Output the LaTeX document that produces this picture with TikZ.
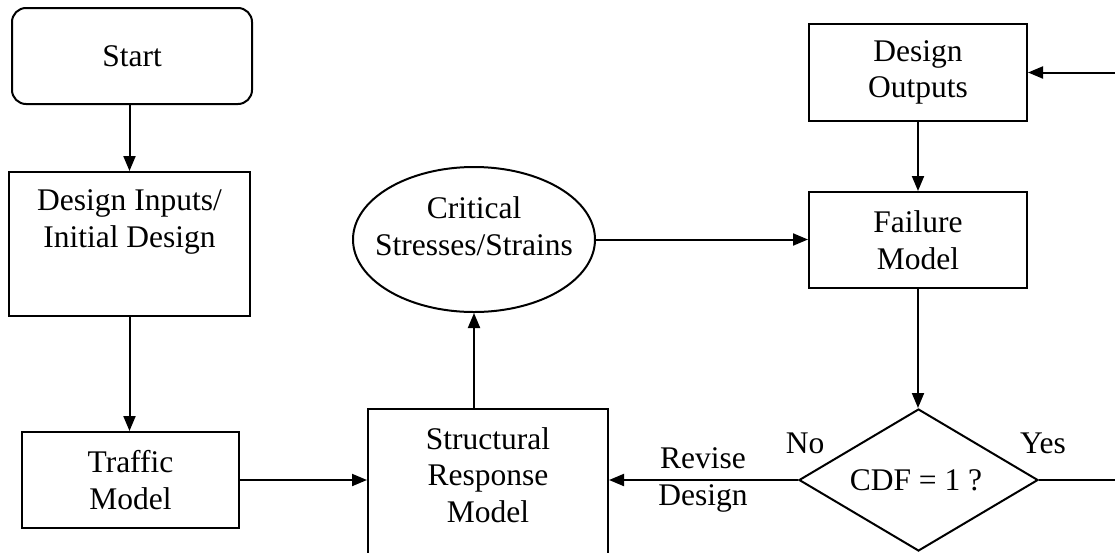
\documentclass[tikz,border=0pt]{standalone}
\usepackage{fontspec}
\setmainfont{Liberation Serif}
\usetikzlibrary{shapes.geometric,arrows.meta}
\begin{document}
\begin{tikzpicture}[x=1pt,y=-1pt,
  every node/.style={font=\fontsize{31.5}{36.5}\selectfont},
  box/.style={draw,line width=2pt,rectangle,inner sep=0pt,align=center},
  txt/.style={align=center,inner sep=0pt},
  arr/.style={line width=2pt,-{Triangle[length=15pt,width=12pt]}},
  ln/.style={line width=2pt}]
\useasboundingbox (0,0) rectangle (1115,552);
\clip (0,0) rectangle (1115,552);
% nodes
\node[box,rounded corners=14pt,minimum width=240pt,minimum height=96pt] (start) at (132,56) {Start};
\node[box,minimum width=241pt,minimum height=144pt] (inputs) at (129.5,244) {};
\node[txt] (inputstxt) at (129.5,222) {Design Inputs/\\Initial Design};
\node[box,minimum width=217pt,minimum height=96pt] (traffic) at (130.5,480) {Traffic\\Model};
\node[box,minimum width=240pt,minimum height=180pt] (struct) at (488,499) {};
\node[txt] (structtxt) at (488,475) {Structural\\Response\\Model};
\node[draw,line width=2pt,ellipse,inner sep=0pt,minimum width=242pt,minimum height=145pt] (crit) at (474,239.5) {};
\node[txt] (crittxt) at (474,226) {Critical\\Stresses/Strains};
\node[box,minimum width=218pt,minimum height=97pt] (outputs) at (918,72.5) {Design\\Outputs};
\node[box,minimum width=218pt,minimum height=96pt] (failure) at (918,240) {Failure\\Model};
\node[draw,line width=2pt,diamond,inner sep=0pt,minimum width=239pt,minimum height=142pt] (cdf) at (918.5,480) {};
\node[txt] (cdftxt) at (916,480) {CDF = 1 ?};
\node[txt] (no) at (805,443) {No};
\node[txt] (yes) at (1043,443) {Yes};
\node[txt] (revise) at (703,480) {Revise\\Design};
\coordinate (yesend) at (1116,480);
\coordinate (feedin) at (1116,72.5);
% connectors
\draw[arr] (start.south -| inputs.north) -- (inputs.north);
\draw[arr] (inputs.south) -- (inputs.south |- traffic.north);
\draw[arr] (traffic.east) -- (traffic.east -| struct.west);
\draw[arr] (struct.north -| crit.south) -- (crit.south);
\draw[arr] (crit.east) -- (crit.east -| failure.west);
\draw[arr] (outputs.south) -- (failure.north);
\draw[arr] (failure.south) -- (failure.south |- cdf.north);
\draw[arr] (cdf.west) -- (cdf.west -| struct.east);
\draw[ln] (cdf.east) -- (yesend);
\draw[arr] (feedin) -- (outputs.east);
\end{tikzpicture}
\end{document}
